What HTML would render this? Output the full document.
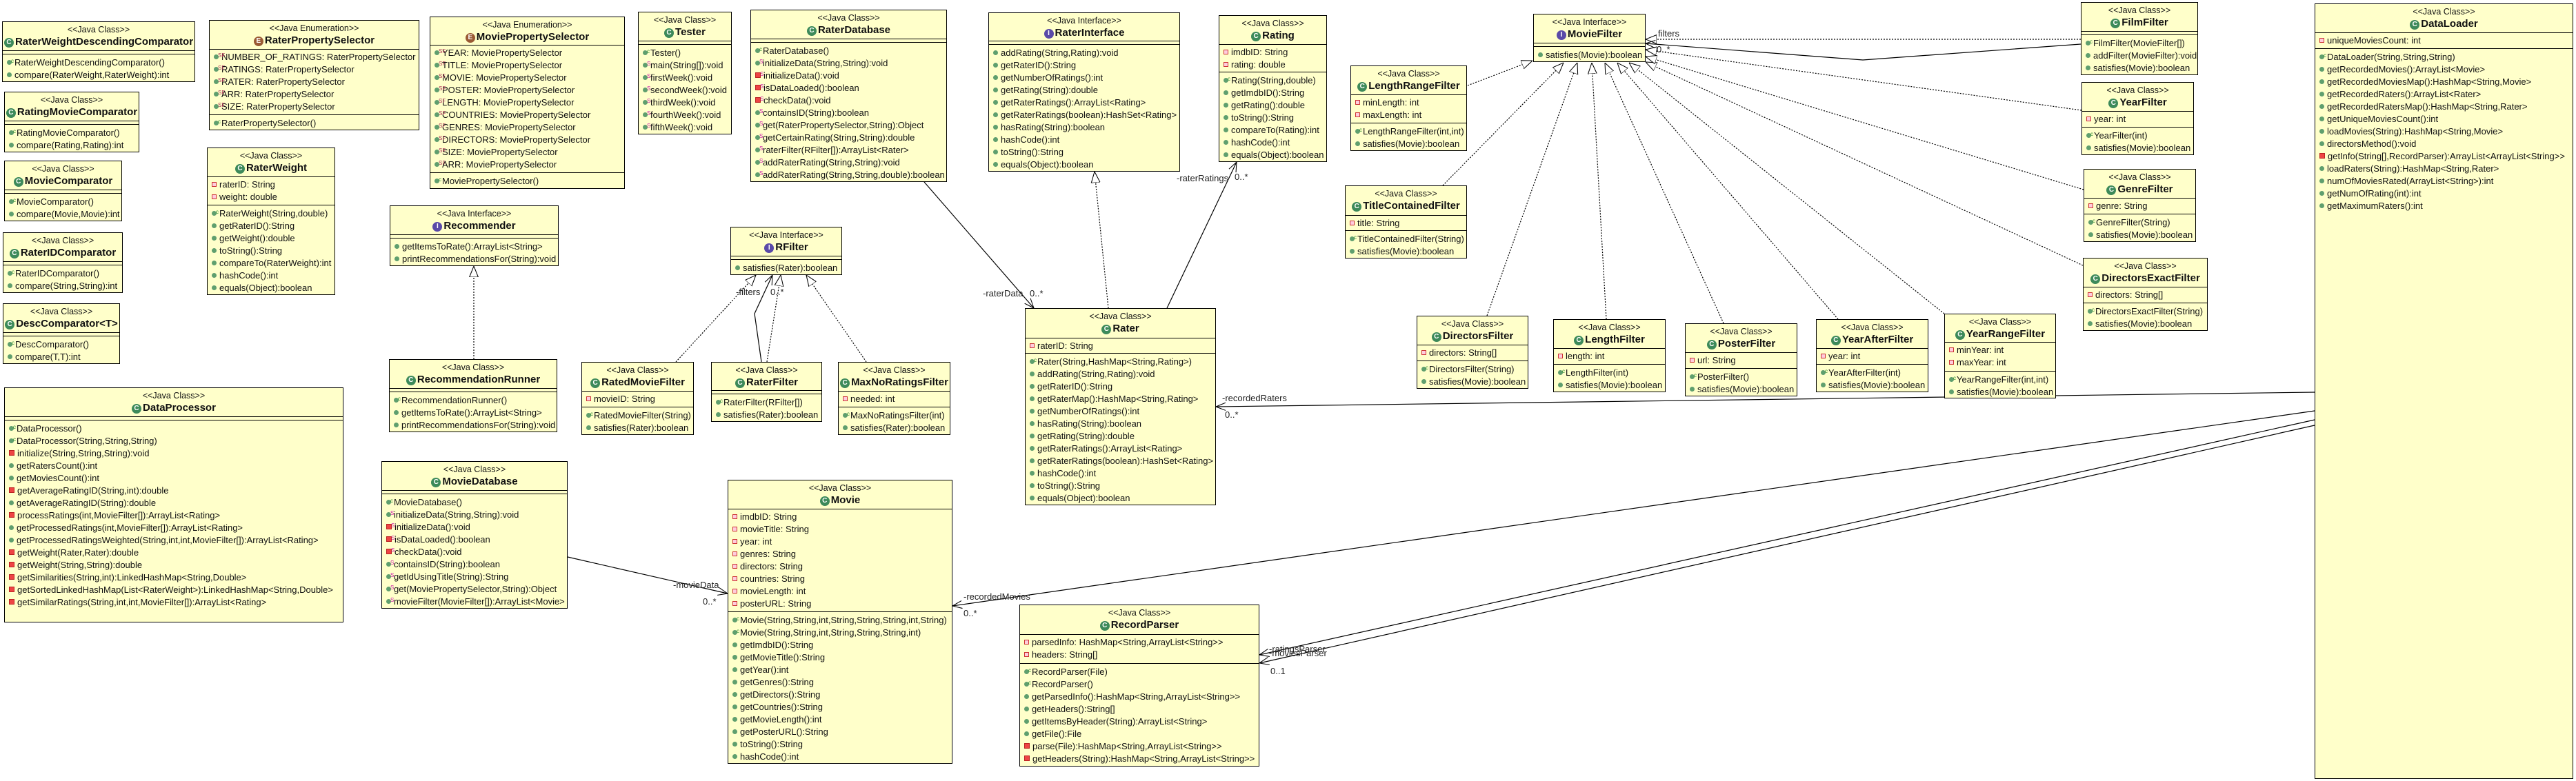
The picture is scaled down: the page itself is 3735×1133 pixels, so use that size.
<!DOCTYPE html>
<html><head><meta charset="utf-8">
<style>
body{margin:0;width:3735px;height:1133px;background:#fff;position:relative;overflow:hidden;font-family:"Liberation Sans",Arial,sans-serif}
.b{position:absolute;background:#ffffca;border:1px solid #000;box-sizing:border-box;overflow:hidden;font-size:13px;color:#111}
.h{text-align:center;border-bottom:1px solid #000;box-sizing:border-box}
.st{font-size:12.5px;line-height:15px;padding-top:4px}
.n{font-weight:bold;font-size:15px;line-height:19px;white-space:nowrap}
.a{border-bottom:1px solid #000;box-sizing:border-box;padding:2px 0 0 6px}
.m{padding:3px 0 0 6px}
.r{line-height:18px;white-space:nowrap}
.g,.p,.q{display:inline-block;width:7px;height:7px;margin-right:4px;vertical-align:1px;position:relative}
.g{border-radius:50%;background:#5f9f6e}
.p{width:5px;height:5px;border:1px solid #c33;background:#fcd}
.q{width:6px;height:6px;border:1px solid #b22;background:#e44}
.c::after,.s::after,.sf::after{position:absolute;left:6px;top:-7px;font-size:8px;color:#2a8a2a}
.c::after{content:"c"}
.s::after{content:"S";color:#c2a}
.sf::after{content:"SF";color:#a35}
.ic{display:inline-block;width:14px;height:14px;border-radius:50%;background:#3d8a5a;color:#fff;font-size:10px;line-height:14px;text-align:center;margin-right:2px;vertical-align:1px;font-weight:bold}
.ie{background:#9a5a34}.ii{background:#5a4aa8}
svg{position:absolute;left:0;top:0}
.t{font-size:13px;fill:#222;font-family:"Liberation Sans",Arial,sans-serif}
</style></head><body>
<svg width="3735" height="1133">
<defs>
<marker id="tri" viewBox="0 0 20 20" refX="20" refY="10" markerWidth="16" markerHeight="16" markerUnits="userSpaceOnUse" orient="auto"><path d="M0,2 L20,10 L0,18 Z" fill="#fff" stroke="#000" stroke-width="1.3"/></marker>
<marker id="arr" viewBox="0 0 20 20" refX="20" refY="10" markerWidth="14" markerHeight="14" markerUnits="userSpaceOnUse" orient="auto"><path d="M0,2 L20,10 L0,18" fill="none" stroke="#000" stroke-width="1.5"/></marker>
</defs>
<g stroke="#000" stroke-width="1.2" stroke-dasharray="2,2" fill="none" marker-end="url(#tri)">
<line x1="687" y1="521" x2="687" y2="386"/>
<line x1="980" y1="525" x2="1096" y2="399"/>
<line x1="1112" y1="525" x2="1132" y2="399"/>
<line x1="1256" y1="525" x2="1169" y2="399"/>
<line x1="1607" y1="447" x2="1587" y2="249"/>
<line x1="2128" y1="124" x2="2222" y2="88"/>
<line x1="2092" y1="269" x2="2267" y2="91"/>
<line x1="2156" y1="458" x2="2287" y2="91"/>
<line x1="2329" y1="463" x2="2308" y2="91"/>
<line x1="2499" y1="469" x2="2327" y2="91"/>
<line x1="2665" y1="463" x2="2345" y2="91"/>
<line x1="2819" y1="455" x2="2362" y2="91"/>
<line x1="3020" y1="385" x2="2386" y2="90"/>
<line x1="3021" y1="275" x2="2386" y2="82"/>
<line x1="3018" y1="160" x2="2386" y2="72"/>
<line x1="3017" y1="57" x2="2386" y2="57"/>
</g>
<g stroke="#000" stroke-width="1.2" fill="none" marker-end="url(#arr)">
<polyline points="1104,525 1094,455 1120,399"/>
<line x1="1340" y1="264" x2="1499" y2="447"/>
<line x1="1692" y1="447" x2="1793" y2="235"/>
<line x1="3356" y1="569" x2="1763" y2="590"/>
<line x1="3356" y1="596" x2="1381" y2="879"/>
<line x1="3356" y1="609" x2="1826" y2="950"/>
<line x1="3356" y1="617" x2="1826" y2="962"/>
<line x1="823" y1="808" x2="1055" y2="861"/>
<polyline points="3017,64 2701,87 2386,63"/>
</g>
<text class="t" x="2404" y="53">filters</text>
<text class="t" x="2402" y="76">0..*</text>
<text class="t" x="1067" y="428">-filters</text>
<text class="t" x="1117" y="428">0..*</text>
<text class="t" x="1425" y="430">-raterData</text>
<text class="t" x="1493" y="430">0..*</text>
<text class="t" x="1706" y="263">-raterRatings</text>
<text class="t" x="1790" y="261">0..*</text>
<text class="t" x="1772" y="582">-recordedRaters</text>
<text class="t" x="1776" y="606">0..*</text>
<text class="t" x="1397" y="870">-recordedMovies</text>
<text class="t" x="1397" y="894">0..*</text>
<text class="t" x="976" y="853">-movieData</text>
<text class="t" x="1019" y="877">0..*</text>
<text class="t" x="1840" y="946">-ratingsParser</text>
<text class="t" x="1840" y="952">-moviesParser</text>
<text class="t" x="1842" y="978">0..1</text>
</svg>

<div class="b" style="left:3px;top:31px;width:280px;height:88px"><div class="h" style="height:42px"><div class="st">&lt;&lt;Java Class&gt;&gt;</div><div class="n"><span class="ic">C</span>RaterWeightDescendingComparator</div></div><div class="a" style="height:5px"></div><div class="m"><div class="r"><span class="g c"></span>RaterWeightDescendingComparator()</div><div class="r"><span class="g"></span>compare(RaterWeight,RaterWeight):int</div></div></div>

<div class="b" style="left:6px;top:133px;width:196px;height:88px"><div class="h" style="height:42px"><div class="st">&lt;&lt;Java Class&gt;&gt;</div><div class="n"><span class="ic">C</span>RatingMovieComparator</div></div><div class="a" style="height:5px"></div><div class="m"><div class="r"><span class="g c"></span>RatingMovieComparator()</div><div class="r"><span class="g"></span>compare(Rating,Rating):int</div></div></div>

<div class="b" style="left:6px;top:233px;width:171px;height:88px"><div class="h" style="height:42px"><div class="st">&lt;&lt;Java Class&gt;&gt;</div><div class="n"><span class="ic">C</span>MovieComparator</div></div><div class="a" style="height:5px"></div><div class="m"><div class="r"><span class="g c"></span>MovieComparator()</div><div class="r"><span class="g"></span>compare(Movie,Movie):int</div></div></div>

<div class="b" style="left:4px;top:337px;width:174px;height:88px"><div class="h" style="height:42px"><div class="st">&lt;&lt;Java Class&gt;&gt;</div><div class="n"><span class="ic">C</span>RaterIDComparator</div></div><div class="a" style="height:5px"></div><div class="m"><div class="r"><span class="g c"></span>RaterIDComparator()</div><div class="r"><span class="g"></span>compare(String,String):int</div></div></div>

<div class="b" style="left:4px;top:440px;width:170px;height:88px"><div class="h" style="height:42px"><div class="st">&lt;&lt;Java Class&gt;&gt;</div><div class="n"><span class="ic">C</span>DescComparator&lt;T&gt;</div></div><div class="a" style="height:5px"></div><div class="m"><div class="r"><span class="g c"></span>DescComparator()</div><div class="r"><span class="g"></span>compare(T,T):int</div></div></div>

<div class="b" style="left:303px;top:29px;width:305px;height:160px"><div class="h" style="height:42px"><div class="st">&lt;&lt;Java Enumeration&gt;&gt;</div><div class="n"><span class="ic ie">E</span>RaterPropertySelector</div></div><div class="a" style="height:95px"><div class="r"><span class="g sf"></span>NUMBER_OF_RATINGS: RaterPropertySelector</div><div class="r"><span class="g sf"></span>RATINGS: RaterPropertySelector</div><div class="r"><span class="g sf"></span>RATER: RaterPropertySelector</div><div class="r"><span class="g sf"></span>ARR: RaterPropertySelector</div><div class="r"><span class="g sf"></span>SIZE: RaterPropertySelector</div></div><div class="m"><div class="r"><span class="g c"></span>RaterPropertySelector()</div></div></div>

<div class="b" style="left:300px;top:214px;width:186px;height:214px"><div class="h" style="height:42px"><div class="st">&lt;&lt;Java Class&gt;&gt;</div><div class="n"><span class="ic">C</span>RaterWeight</div></div><div class="a" style="height:41px"><div class="r"><span class="p"></span>raterID: String</div><div class="r"><span class="p"></span>weight: double</div></div><div class="m"><div class="r"><span class="g c"></span>RaterWeight(String,double)</div><div class="r"><span class="g"></span>getRaterID():String</div><div class="r"><span class="g"></span>getWeight():double</div><div class="r"><span class="g"></span>toString():String</div><div class="r"><span class="g"></span>compareTo(RaterWeight):int</div><div class="r"><span class="g"></span>hashCode():int</div><div class="r"><span class="g"></span>equals(Object):boolean</div></div></div>

<div class="b" style="left:623px;top:24px;width:283px;height:250px"><div class="h" style="height:41px"><div class="st">&lt;&lt;Java Enumeration&gt;&gt;</div><div class="n"><span class="ic ie">E</span>MoviePropertySelector</div></div><div class="a" style="height:185px"><div class="r"><span class="g sf"></span>YEAR: MoviePropertySelector</div><div class="r"><span class="g sf"></span>TITLE: MoviePropertySelector</div><div class="r"><span class="g sf"></span>MOVIE: MoviePropertySelector</div><div class="r"><span class="g sf"></span>POSTER: MoviePropertySelector</div><div class="r"><span class="g sf"></span>LENGTH: MoviePropertySelector</div><div class="r"><span class="g sf"></span>COUNTRIES: MoviePropertySelector</div><div class="r"><span class="g sf"></span>GENRES: MoviePropertySelector</div><div class="r"><span class="g sf"></span>DIRECTORS: MoviePropertySelector</div><div class="r"><span class="g sf"></span>SIZE: MoviePropertySelector</div><div class="r"><span class="g sf"></span>ARR: MoviePropertySelector</div></div><div class="m"><div class="r"><span class="g c"></span>MoviePropertySelector()</div></div></div>

<div class="b" style="left:925px;top:17px;width:136px;height:178px"><div class="h" style="height:42px"><div class="st">&lt;&lt;Java Class&gt;&gt;</div><div class="n"><span class="ic">C</span>Tester</div></div><div class="a" style="height:5px"></div><div class="m"><div class="r"><span class="g c"></span>Tester()</div><div class="r"><span class="g s"></span>main(String[]):void</div><div class="r"><span class="g s"></span>firstWeek():void</div><div class="r"><span class="g s"></span>secondWeek():void</div><div class="r"><span class="g s"></span>thirdWeek():void</div><div class="r"><span class="g s"></span>fourthWeek():void</div><div class="r"><span class="g s"></span>fifthWeek():void</div></div></div>

<div class="b" style="left:1088px;top:14px;width:285px;height:250px"><div class="h" style="height:42px"><div class="st">&lt;&lt;Java Class&gt;&gt;</div><div class="n"><span class="ic">C</span>RaterDatabase</div></div><div class="a" style="height:5px"></div><div class="m"><div class="r"><span class="g c"></span>RaterDatabase()</div><div class="r"><span class="g s"></span>initializeData(String,String):void</div><div class="r"><span class="q s"></span>initializeData():void</div><div class="r"><span class="q s"></span>isDataLoaded():boolean</div><div class="r"><span class="q s"></span>checkData():void</div><div class="r"><span class="g s"></span>containsID(String):boolean</div><div class="r"><span class="g s"></span>get(RaterPropertySelector,String):Object</div><div class="r"><span class="g s"></span>getCertainRating(String,String):double</div><div class="r"><span class="g s"></span>raterFilter(RFilter[]):ArrayList&lt;Rater&gt;</div><div class="r"><span class="g s"></span>addRaterRating(String,String):void</div><div class="r"><span class="g s"></span>addRaterRating(String,String,double):boolean</div></div></div>

<div class="b" style="left:1433px;top:18px;width:278px;height:231px"><div class="h" style="height:41px"><div class="st">&lt;&lt;Java Interface&gt;&gt;</div><div class="n"><span class="ic ii">I</span>RaterInterface</div></div><div class="a" style="height:5px"></div><div class="m"><div class="r"><span class="g"></span>addRating(String,Rating):void</div><div class="r"><span class="g"></span>getRaterID():String</div><div class="r"><span class="g"></span>getNumberOfRatings():int</div><div class="r"><span class="g"></span>getRating(String):double</div><div class="r"><span class="g"></span>getRaterRatings():ArrayList&lt;Rating&gt;</div><div class="r"><span class="g"></span>getRaterRatings(boolean):HashSet&lt;Rating&gt;</div><div class="r"><span class="g"></span>hasRating(String):boolean</div><div class="r"><span class="g"></span>hashCode():int</div><div class="r"><span class="g"></span>toString():String</div><div class="r"><span class="g"></span>equals(Object):boolean</div></div></div>

<div class="b" style="left:1767px;top:22px;width:157px;height:213px"><div class="h" style="height:42px"><div class="st">&lt;&lt;Java Class&gt;&gt;</div><div class="n"><span class="ic">C</span>Rating</div></div><div class="a" style="height:40px"><div class="r"><span class="p"></span>imdbID: String</div><div class="r"><span class="p"></span>rating: double</div></div><div class="m"><div class="r"><span class="g c"></span>Rating(String,double)</div><div class="r"><span class="g"></span>getImdbID():String</div><div class="r"><span class="g"></span>getRating():double</div><div class="r"><span class="g"></span>toString():String</div><div class="r"><span class="g"></span>compareTo(Rating):int</div><div class="r"><span class="g"></span>hashCode():int</div><div class="r"><span class="g"></span>equals(Object):boolean</div></div></div>

<div class="b" style="left:565px;top:298px;width:245px;height:88px"><div class="h" style="height:42px"><div class="st">&lt;&lt;Java Interface&gt;&gt;</div><div class="n"><span class="ic ii">I</span>Recommender</div></div><div class="a" style="height:5px"></div><div class="m"><div class="r"><span class="g"></span>getItemsToRate():ArrayList&lt;String&gt;</div><div class="r"><span class="g"></span>printRecommendationsFor(String):void</div></div></div>

<div class="b" style="left:1059px;top:329px;width:162px;height:70px"><div class="h" style="height:42px"><div class="st">&lt;&lt;Java Interface&gt;&gt;</div><div class="n"><span class="ic ii">I</span>RFilter</div></div><div class="a" style="height:5px"></div><div class="m"><div class="r"><span class="g"></span>satisfies(Rater):boolean</div></div></div>

<div class="b" style="left:564px;top:521px;width:244px;height:106px"><div class="h" style="height:42px"><div class="st">&lt;&lt;Java Class&gt;&gt;</div><div class="n"><span class="ic">C</span>RecommendationRunner</div></div><div class="a" style="height:5px"></div><div class="m"><div class="r"><span class="g c"></span>RecommendationRunner()</div><div class="r"><span class="g"></span>getItemsToRate():ArrayList&lt;String&gt;</div><div class="r"><span class="g"></span>printRecommendationsFor(String):void</div></div></div>

<div class="b" style="left:843px;top:525px;width:163px;height:106px"><div class="h" style="height:42px"><div class="st">&lt;&lt;Java Class&gt;&gt;</div><div class="n"><span class="ic">C</span>RatedMovieFilter</div></div><div class="a" style="height:23px"><div class="r"><span class="p"></span>movieID: String</div></div><div class="m"><div class="r"><span class="g c"></span>RatedMovieFilter(String)</div><div class="r"><span class="g"></span>satisfies(Rater):boolean</div></div></div>

<div class="b" style="left:1031px;top:525px;width:161px;height:87px"><div class="h" style="height:41px"><div class="st">&lt;&lt;Java Class&gt;&gt;</div><div class="n"><span class="ic">C</span>RaterFilter</div></div><div class="a" style="height:5px"></div><div class="m"><div class="r"><span class="g c"></span>RaterFilter(RFilter[])</div><div class="r"><span class="g"></span>satisfies(Rater):boolean</div></div></div>

<div class="b" style="left:1215px;top:525px;width:163px;height:106px"><div class="h" style="height:42px"><div class="st">&lt;&lt;Java Class&gt;&gt;</div><div class="n"><span class="ic">C</span>MaxNoRatingsFilter</div></div><div class="a" style="height:23px"><div class="r"><span class="p"></span>needed: int</div></div><div class="m"><div class="r"><span class="g c"></span>MaxNoRatingsFilter(int)</div><div class="r"><span class="g"></span>satisfies(Rater):boolean</div></div></div>

<div class="b" style="left:1486px;top:447px;width:277px;height:286px"><div class="h" style="height:43px"><div class="st">&lt;&lt;Java Class&gt;&gt;</div><div class="n"><span class="ic">C</span>Rater</div></div><div class="a" style="height:22px"><div class="r"><span class="p"></span>raterID: String</div></div><div class="m"><div class="r"><span class="g c"></span>Rater(String,HashMap&lt;String,Rating&gt;)</div><div class="r"><span class="g"></span>addRating(String,Rating):void</div><div class="r"><span class="g"></span>getRaterID():String</div><div class="r"><span class="g"></span>getRaterMap():HashMap&lt;String,Rating&gt;</div><div class="r"><span class="g"></span>getNumberOfRatings():int</div><div class="r"><span class="g"></span>hasRating(String):boolean</div><div class="r"><span class="g"></span>getRating(String):double</div><div class="r"><span class="g"></span>getRaterRatings():ArrayList&lt;Rating&gt;</div><div class="r"><span class="g"></span>getRaterRatings(boolean):HashSet&lt;Rating&gt;</div><div class="r"><span class="g"></span>hashCode():int</div><div class="r"><span class="g"></span>toString():String</div><div class="r"><span class="g"></span>equals(Object):boolean</div></div></div>

<div class="b" style="left:1055px;top:696px;width:326px;height:412px"><div class="h" style="height:42px"><div class="st">&lt;&lt;Java Class&gt;&gt;</div><div class="n"><span class="ic">C</span>Movie</div></div><div class="a" style="height:149px"><div class="r"><span class="p"></span>imdbID: String</div><div class="r"><span class="p"></span>movieTitle: String</div><div class="r"><span class="p"></span>year: int</div><div class="r"><span class="p"></span>genres: String</div><div class="r"><span class="p"></span>directors: String</div><div class="r"><span class="p"></span>countries: String</div><div class="r"><span class="p"></span>movieLength: int</div><div class="r"><span class="p"></span>posterURL: String</div></div><div class="m"><div class="r"><span class="g c"></span>Movie(String,String,int,String,String,String,int,String)</div><div class="r"><span class="g c"></span>Movie(String,String,int,String,String,String,int)</div><div class="r"><span class="g"></span>getImdbID():String</div><div class="r"><span class="g"></span>getMovieTitle():String</div><div class="r"><span class="g"></span>getYear():int</div><div class="r"><span class="g"></span>getGenres():String</div><div class="r"><span class="g"></span>getDirectors():String</div><div class="r"><span class="g"></span>getCountries():String</div><div class="r"><span class="g"></span>getMovieLength():int</div><div class="r"><span class="g"></span>getPosterURL():String</div><div class="r"><span class="g"></span>toString():String</div><div class="r"><span class="g"></span>hashCode():int</div></div></div>

<div class="b" style="left:1478px;top:877px;width:348px;height:235px"><div class="h" style="height:43px"><div class="st">&lt;&lt;Java Class&gt;&gt;</div><div class="n"><span class="ic">C</span>RecordParser</div></div><div class="a" style="height:42px"><div class="r"><span class="p"></span>parsedInfo: HashMap&lt;String,ArrayList&lt;String&gt;&gt;</div><div class="r"><span class="p"></span>headers: String[]</div></div><div class="m"><div class="r"><span class="g c"></span>RecordParser(File)</div><div class="r"><span class="g c"></span>RecordParser()</div><div class="r"><span class="g"></span>getParsedInfo():HashMap&lt;String,ArrayList&lt;String&gt;&gt;</div><div class="r"><span class="g"></span>getHeaders():String[]</div><div class="r"><span class="g"></span>getItemsByHeader(String):ArrayList&lt;String&gt;</div><div class="r"><span class="g"></span>getFile():File</div><div class="r"><span class="q"></span>parse(File):HashMap&lt;String,ArrayList&lt;String&gt;&gt;</div><div class="r"><span class="q"></span>getHeaders(String):HashMap&lt;String,ArrayList&lt;String&gt;&gt;</div></div></div>

<div class="b" style="left:6px;top:562px;width:492px;height:341px"><div class="h" style="height:42px"><div class="st">&lt;&lt;Java Class&gt;&gt;</div><div class="n"><span class="ic">C</span>DataProcessor</div></div><div class="a" style="height:5px"></div><div class="m"><div class="r"><span class="g c"></span>DataProcessor()</div><div class="r"><span class="g c"></span>DataProcessor(String,String,String)</div><div class="r"><span class="q"></span>initialize(String,String,String):void</div><div class="r"><span class="g"></span>getRatersCount():int</div><div class="r"><span class="g"></span>getMoviesCount():int</div><div class="r"><span class="q"></span>getAverageRatingID(String,int):double</div><div class="r"><span class="g"></span>getAverageRatingID(String):double</div><div class="r"><span class="q"></span>processRatings(int,MovieFilter[]):ArrayList&lt;Rating&gt;</div><div class="r"><span class="g"></span>getProcessedRatings(int,MovieFilter[]):ArrayList&lt;Rating&gt;</div><div class="r"><span class="g"></span>getProcessedRatingsWeighted(String,int,int,MovieFilter[]):ArrayList&lt;Rating&gt;</div><div class="r"><span class="q"></span>getWeight(Rater,Rater):double</div><div class="r"><span class="q"></span>getWeight(String,String):double</div><div class="r"><span class="q"></span>getSimilarities(String,int):LinkedHashMap&lt;String,Double&gt;</div><div class="r"><span class="q"></span>getSortedLinkedHashMap(List&lt;RaterWeight&gt;):LinkedHashMap&lt;String,Double&gt;</div><div class="r"><span class="q"></span>getSimilarRatings(String,int,int,MovieFilter[]):ArrayList&lt;Rating&gt;</div></div></div>

<div class="b" style="left:553px;top:669px;width:270px;height:214px"><div class="h" style="height:42px"><div class="st">&lt;&lt;Java Class&gt;&gt;</div><div class="n"><span class="ic">C</span>MovieDatabase</div></div><div class="a" style="height:5px"></div><div class="m"><div class="r"><span class="g c"></span>MovieDatabase()</div><div class="r"><span class="g s"></span>initializeData(String,String):void</div><div class="r"><span class="q s"></span>initializeData():void</div><div class="r"><span class="q s"></span>isDataLoaded():boolean</div><div class="r"><span class="q s"></span>checkData():void</div><div class="r"><span class="g s"></span>containsID(String):boolean</div><div class="r"><span class="g s"></span>getIdUsingTitle(String):String</div><div class="r"><span class="g s"></span>get(MoviePropertySelector,String):Object</div><div class="r"><span class="g s"></span>movieFilter(MovieFilter[]):ArrayList&lt;Movie&gt;</div></div></div>

<div class="b" style="left:2223px;top:20px;width:163px;height:70px"><div class="h" style="height:42px"><div class="st">&lt;&lt;Java Interface&gt;&gt;</div><div class="n"><span class="ic ii">I</span>MovieFilter</div></div><div class="a" style="height:5px"></div><div class="m"><div class="r"><span class="g"></span>satisfies(Movie):boolean</div></div></div>

<div class="b" style="left:1958px;top:95px;width:169px;height:124px"><div class="h" style="height:42px"><div class="st">&lt;&lt;Java Class&gt;&gt;</div><div class="n"><span class="ic">C</span>LengthRangeFilter</div></div><div class="a" style="height:41px"><div class="r"><span class="p"></span>minLength: int</div><div class="r"><span class="p"></span>maxLength: int</div></div><div class="m"><div class="r"><span class="g c"></span>LengthRangeFilter(int,int)</div><div class="r"><span class="g"></span>satisfies(Movie):boolean</div></div></div>

<div class="b" style="left:1950px;top:269px;width:177px;height:106px"><div class="h" style="height:43px"><div class="st">&lt;&lt;Java Class&gt;&gt;</div><div class="n"><span class="ic">C</span>TitleContainedFilter</div></div><div class="a" style="height:22px"><div class="r"><span class="p"></span>title: String</div></div><div class="m"><div class="r"><span class="g c"></span>TitleContainedFilter(String)</div><div class="r"><span class="g"></span>satisfies(Movie):boolean</div></div></div>

<div class="b" style="left:2054px;top:458px;width:162px;height:106px"><div class="h" style="height:42px"><div class="st">&lt;&lt;Java Class&gt;&gt;</div><div class="n"><span class="ic">C</span>DirectorsFilter</div></div><div class="a" style="height:23px"><div class="r"><span class="p"></span>directors: String[]</div></div><div class="m"><div class="r"><span class="g c"></span>DirectorsFilter(String)</div><div class="r"><span class="g"></span>satisfies(Movie):boolean</div></div></div>

<div class="b" style="left:2252px;top:463px;width:163px;height:106px"><div class="h" style="height:42px"><div class="st">&lt;&lt;Java Class&gt;&gt;</div><div class="n"><span class="ic">C</span>LengthFilter</div></div><div class="a" style="height:23px"><div class="r"><span class="p"></span>length: int</div></div><div class="m"><div class="r"><span class="g c"></span>LengthFilter(int)</div><div class="r"><span class="g"></span>satisfies(Movie):boolean</div></div></div>

<div class="b" style="left:2443px;top:469px;width:163px;height:106px"><div class="h" style="height:42px"><div class="st">&lt;&lt;Java Class&gt;&gt;</div><div class="n"><span class="ic">C</span>PosterFilter</div></div><div class="a" style="height:23px"><div class="r"><span class="p"></span>url: String</div></div><div class="m"><div class="r"><span class="g c"></span>PosterFilter()</div><div class="r"><span class="g"></span>satisfies(Movie):boolean</div></div></div>

<div class="b" style="left:2633px;top:463px;width:163px;height:106px"><div class="h" style="height:42px"><div class="st">&lt;&lt;Java Class&gt;&gt;</div><div class="n"><span class="ic">C</span>YearAfterFilter</div></div><div class="a" style="height:23px"><div class="r"><span class="p"></span>year: int</div></div><div class="m"><div class="r"><span class="g c"></span>YearAfterFilter(int)</div><div class="r"><span class="g"></span>satisfies(Movie):boolean</div></div></div>

<div class="b" style="left:2819px;top:455px;width:162px;height:123px"><div class="h" style="height:41px"><div class="st">&lt;&lt;Java Class&gt;&gt;</div><div class="n"><span class="ic">C</span>YearRangeFilter</div></div><div class="a" style="height:42px"><div class="r"><span class="p"></span>minYear: int</div><div class="r"><span class="p"></span>maxYear: int</div></div><div class="m"><div class="r"><span class="g c"></span>YearRangeFilter(int,int)</div><div class="r"><span class="g"></span>satisfies(Movie):boolean</div></div></div>

<div class="b" style="left:3017px;top:3px;width:170px;height:106px"><div class="h" style="height:42px"><div class="st">&lt;&lt;Java Class&gt;&gt;</div><div class="n"><span class="ic">C</span>FilmFilter</div></div><div class="a" style="height:5px"></div><div class="m"><div class="r"><span class="g c"></span>FilmFilter(MovieFilter[])</div><div class="r"><span class="g"></span>addFilter(MovieFilter):void</div><div class="r"><span class="g"></span>satisfies(Movie):boolean</div></div></div>

<div class="b" style="left:3018px;top:119px;width:163px;height:106px"><div class="h" style="height:42px"><div class="st">&lt;&lt;Java Class&gt;&gt;</div><div class="n"><span class="ic">C</span>YearFilter</div></div><div class="a" style="height:23px"><div class="r"><span class="p"></span>year: int</div></div><div class="m"><div class="r"><span class="g c"></span>YearFilter(int)</div><div class="r"><span class="g"></span>satisfies(Movie):boolean</div></div></div>

<div class="b" style="left:3021px;top:245px;width:163px;height:106px"><div class="h" style="height:42px"><div class="st">&lt;&lt;Java Class&gt;&gt;</div><div class="n"><span class="ic">C</span>GenreFilter</div></div><div class="a" style="height:23px"><div class="r"><span class="p"></span>genre: String</div></div><div class="m"><div class="r"><span class="g c"></span>GenreFilter(String)</div><div class="r"><span class="g"></span>satisfies(Movie):boolean</div></div></div>

<div class="b" style="left:3020px;top:374px;width:181px;height:106px"><div class="h" style="height:42px"><div class="st">&lt;&lt;Java Class&gt;&gt;</div><div class="n"><span class="ic">C</span>DirectorsExactFilter</div></div><div class="a" style="height:23px"><div class="r"><span class="p"></span>directors: String[]</div></div><div class="m"><div class="r"><span class="g c"></span>DirectorsExactFilter(String)</div><div class="r"><span class="g"></span>satisfies(Movie):boolean</div></div></div>

<div class="b" style="left:3356px;top:5px;width:375px;height:1125px"><div class="h" style="height:42px"><div class="st">&lt;&lt;Java Class&gt;&gt;</div><div class="n"><span class="ic">C</span>DataLoader</div></div><div class="a" style="height:23px"><div class="r"><span class="p"></span>uniqueMoviesCount: int</div></div><div class="m"><div class="r"><span class="g c"></span>DataLoader(String,String,String)</div><div class="r"><span class="g"></span>getRecordedMovies():ArrayList&lt;Movie&gt;</div><div class="r"><span class="g"></span>getRecordedMoviesMap():HashMap&lt;String,Movie&gt;</div><div class="r"><span class="g"></span>getRecordedRaters():ArrayList&lt;Rater&gt;</div><div class="r"><span class="g"></span>getRecordedRatersMap():HashMap&lt;String,Rater&gt;</div><div class="r"><span class="g"></span>getUniqueMoviesCount():int</div><div class="r"><span class="g"></span>loadMovies(String):HashMap&lt;String,Movie&gt;</div><div class="r"><span class="g"></span>directorsMethod():void</div><div class="r"><span class="q"></span>getInfo(String[],RecordParser):ArrayList&lt;ArrayList&lt;String&gt;&gt;</div><div class="r"><span class="g"></span>loadRaters(String):HashMap&lt;String,Rater&gt;</div><div class="r"><span class="g"></span>numOfMoviesRated(ArrayList&lt;String&gt;):int</div><div class="r"><span class="g"></span>getNumOfRating(int):int</div><div class="r"><span class="g"></span>getMaximumRaters():int</div></div></div>

</body></html>
